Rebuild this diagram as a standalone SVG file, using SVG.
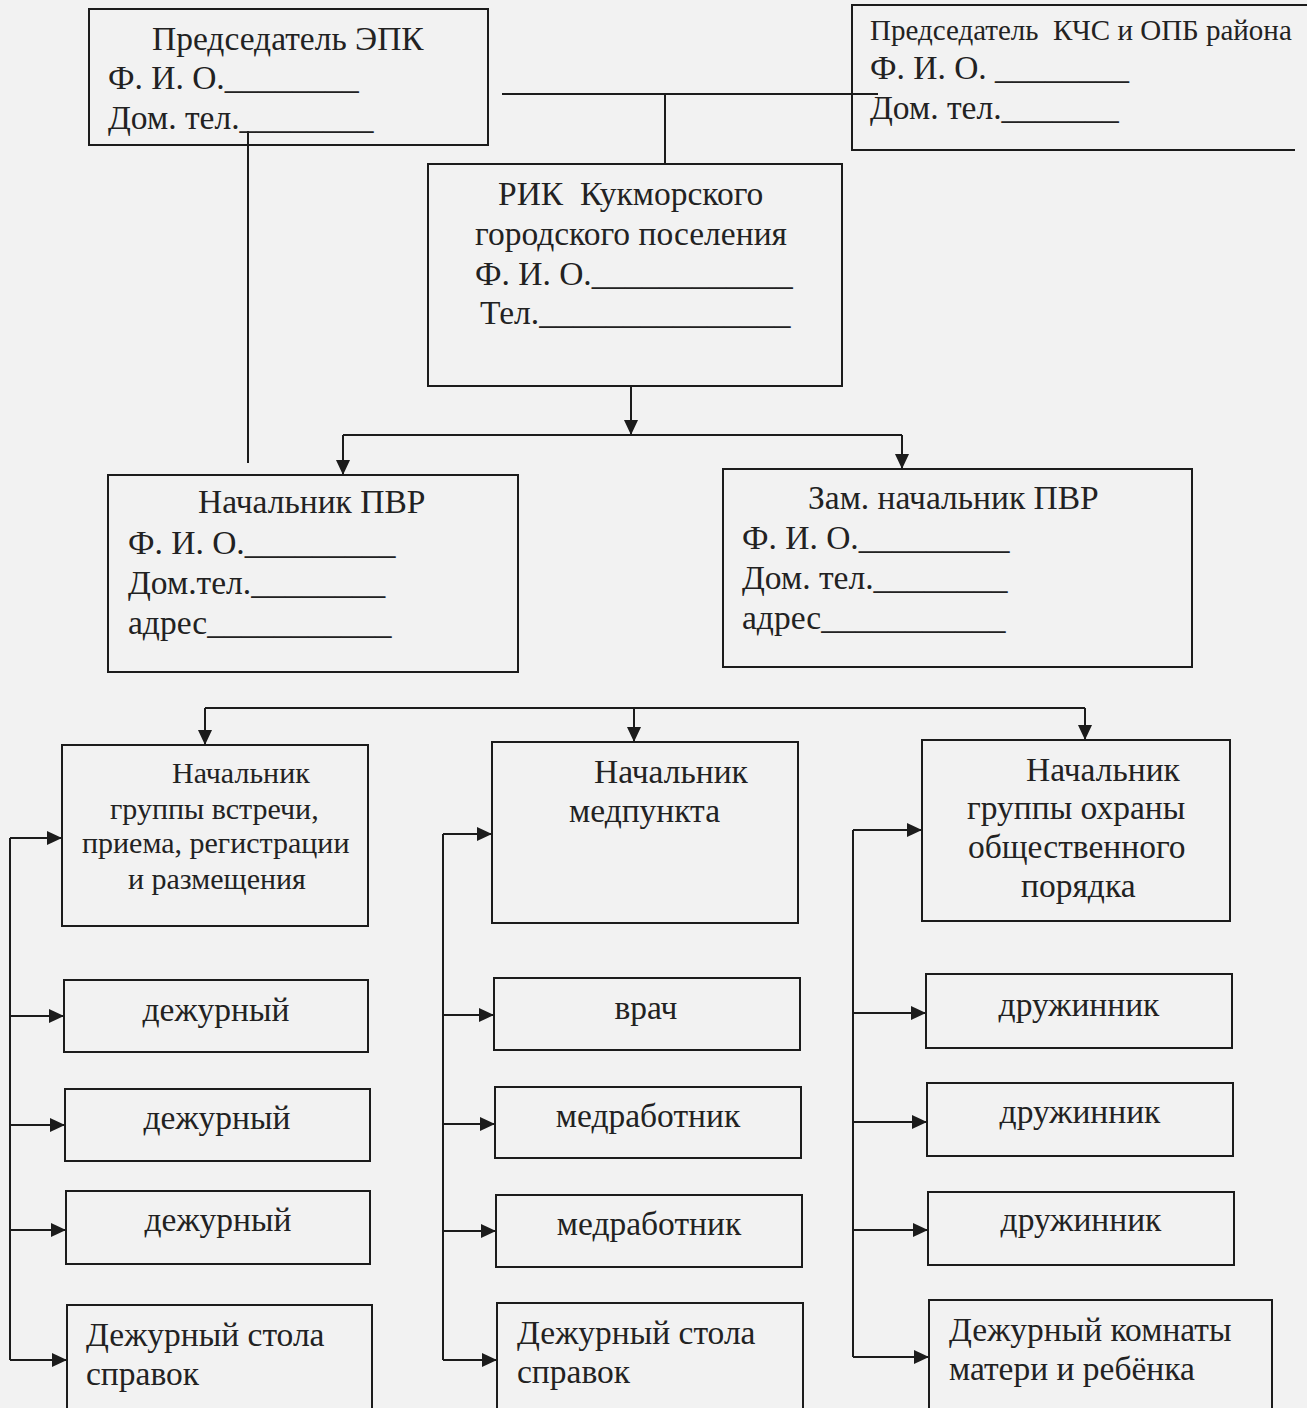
<svg xmlns="http://www.w3.org/2000/svg" width="1307" height="1408" viewBox="0 0 1307 1408">
<defs>
<style>
.box{fill:none;stroke:#1c1c1c;stroke-width:2}
.ln{fill:none;stroke:#1c1c1c;stroke-width:2}
.ar{fill:none;stroke:#1c1c1c;stroke-width:2;marker-end:url(#ah)}
text{font-family:"Liberation Serif","Times New Roman",serif;fill:#222;white-space:pre}
.t33{font-size:33.5px}
.t30{font-size:30px}
.t29{font-size:29px}
.c{text-anchor:middle}
</style>
<marker id="ah" markerUnits="userSpaceOnUse" markerWidth="16" markerHeight="14" refX="15" refY="7" orient="auto">
<path d="M0,0 L15,7 L0,14 z" fill="#1c1c1c"/>
</marker>
</defs>
<rect x="0" y="0" width="1307" height="1408" fill="#f2f2f2"/>

<g id="connectors">
<line class="ln" x1="248" y1="131" x2="248" y2="463"/>
<line class="ln" x1="502" y1="94" x2="878" y2="94"/>
<line class="ln" x1="665" y1="94" x2="665" y2="164"/>
<line class="ar" x1="631" y1="386" x2="631" y2="435"/>
<line class="ln" x1="343" y1="435" x2="902" y2="435"/>
<line class="ar" x1="343" y1="435" x2="343" y2="475"/>
<line class="ar" x1="902" y1="435" x2="902" y2="469"/>
<line class="ln" x1="205" y1="708" x2="1085" y2="708"/>
<line class="ar" x1="205" y1="708" x2="205" y2="745"/>
<line class="ar" x1="634" y1="708" x2="634" y2="742"/>
<line class="ar" x1="1085" y1="708" x2="1085" y2="740"/>
<line class="ln" x1="10" y1="838" x2="10" y2="1360"/>
<line class="ar" x1="10" y1="838" x2="62" y2="838"/>
<line class="ar" x1="10" y1="1016" x2="64" y2="1016"/>
<line class="ar" x1="10" y1="1125" x2="65" y2="1125"/>
<line class="ar" x1="10" y1="1230" x2="66" y2="1230"/>
<line class="ar" x1="10" y1="1360" x2="67" y2="1360"/>
<line class="ln" x1="443" y1="834" x2="443" y2="1360"/>
<line class="ar" x1="443" y1="834" x2="492" y2="834"/>
<line class="ar" x1="443" y1="1015" x2="494" y2="1015"/>
<line class="ar" x1="443" y1="1124" x2="495" y2="1124"/>
<line class="ar" x1="443" y1="1231" x2="496" y2="1231"/>
<line class="ar" x1="443" y1="1360" x2="497" y2="1360"/>
<line class="ln" x1="853" y1="830" x2="853" y2="1357"/>
<line class="ar" x1="853" y1="830" x2="922" y2="830"/>
<line class="ar" x1="853" y1="1013" x2="926" y2="1013"/>
<line class="ar" x1="853" y1="1122" x2="927" y2="1122"/>
<line class="ar" x1="853" y1="1230" x2="928" y2="1230"/>
<line class="ar" x1="853" y1="1357" x2="929" y2="1357"/>
</g>

<g id="epk">
<rect class="box" x="89" y="9" width="399" height="136"/>
<text class="t33" x="152" y="50">Председатель ЭПК</text>
<text class="t33" x="108" y="89">Ф. И. О.________</text>
<text class="t33" x="108" y="129">Дом. тел.________</text>
</g>

<g id="kchs">
<path class="box" d="M1307,5 H852 V150 H1295"/>
<text class="t29" x="870" y="40">Председатель  КЧС и ОПБ района</text>
<text class="t33" x="870" y="79">Ф. И. О. ________</text>
<text class="t33" x="870" y="119">Дом. тел._______</text>
</g>

<g id="rik">
<rect class="box" x="428" y="164" width="414" height="222"/>
<text class="t33" x="498" y="205">РИК  Кукморского</text>
<text class="t33" x="475" y="245">городского поселения</text>
<text class="t33" x="475" y="285">Ф. И. О.____________</text>
<text class="t33" x="480" y="324">Тел._______________</text>
</g>

<g id="nach-pvr">
<rect class="box" x="108" y="475" width="410" height="197"/>
<text class="t33" x="198" y="513">Начальник ПВР</text>
<text class="t33" x="128" y="554">Ф. И. О._________</text>
<text class="t33" x="128" y="594">Дом.тел.________</text>
<text class="t33" x="128" y="634">адрес___________</text>
</g>

<g id="zam-pvr">
<rect class="box" x="723" y="469" width="469" height="198"/>
<text class="t33" x="808" y="509">Зам. начальник ПВР</text>
<text class="t33" x="742" y="549">Ф. И. О._________</text>
<text class="t33" x="742" y="589">Дом. тел.________</text>
<text class="t33" x="742" y="629">адрес___________</text>
</g>

<g id="gr-vstrechi">
<rect class="box" x="62" y="745" width="306" height="181"/>
<text class="t30" x="172" y="783">Начальник</text>
<text class="t30" x="110" y="819">группы встречи,</text>
<text class="t30" x="82" y="853">приема, регистрации</text>
<text class="t30" x="128" y="889">и размещения</text>
</g>

<g id="medpunkt">
<rect class="box" x="492" y="742" width="306" height="181"/>
<text class="t33" x="594" y="783">Начальник</text>
<text class="t33" x="569" y="822">медпункта</text>
</g>

<g id="gr-ohrany">
<rect class="box" x="922" y="740" width="308" height="181"/>
<text class="t33" x="1026" y="781">Начальник</text>
<text class="t33" x="967" y="819">группы охраны</text>
<text class="t33" x="968" y="858">общественного</text>
<text class="t33" x="1021" y="897">порядка</text>
</g>

<g id="dezh1"><rect class="box" x="64" y="980" width="304" height="72"/><text class="t33 c" x="216" y="1021">дежурный</text></g>
<g id="dezh2"><rect class="box" x="65" y="1089" width="305" height="72"/><text class="t33 c" x="217" y="1129">дежурный</text></g>
<g id="dezh3"><rect class="box" x="66" y="1191" width="304" height="73"/><text class="t33 c" x="218" y="1231">дежурный</text></g>
<g id="spravki1"><rect class="box" x="67" y="1305" width="305" height="130"/>
<text class="t33" x="86" y="1346">Дежурный стола</text>
<text class="t33" x="86" y="1385">справок</text></g>

<g id="vrach"><rect class="box" x="494" y="978" width="306" height="72"/><text class="t33 c" x="646" y="1019">врач</text></g>
<g id="medrab1"><rect class="box" x="495" y="1087" width="306" height="71"/><text class="t33 c" x="648" y="1127">медработник</text></g>
<g id="medrab2"><rect class="box" x="496" y="1195" width="306" height="72"/><text class="t33 c" x="649" y="1235">медработник</text></g>
<g id="spravki2"><rect class="box" x="497" y="1303" width="306" height="130"/>
<text class="t33" x="517" y="1344">Дежурный стола</text>
<text class="t33" x="517" y="1383">справок</text></g>

<g id="druzh1"><rect class="box" x="926" y="974" width="306" height="74"/><text class="t33 c" x="1079" y="1016">дружинник</text></g>
<g id="druzh2"><rect class="box" x="927" y="1083" width="306" height="73"/><text class="t33 c" x="1080" y="1123">дружинник</text></g>
<g id="druzh3"><rect class="box" x="928" y="1192" width="306" height="73"/><text class="t33 c" x="1081" y="1231">дружинник</text></g>
<g id="komnata"><rect class="box" x="929" y="1300" width="343" height="130"/>
<text class="t33" x="949" y="1341">Дежурный комнаты</text>
<text class="t33" x="949" y="1380">матери и ребёнка</text></g>
</svg>
